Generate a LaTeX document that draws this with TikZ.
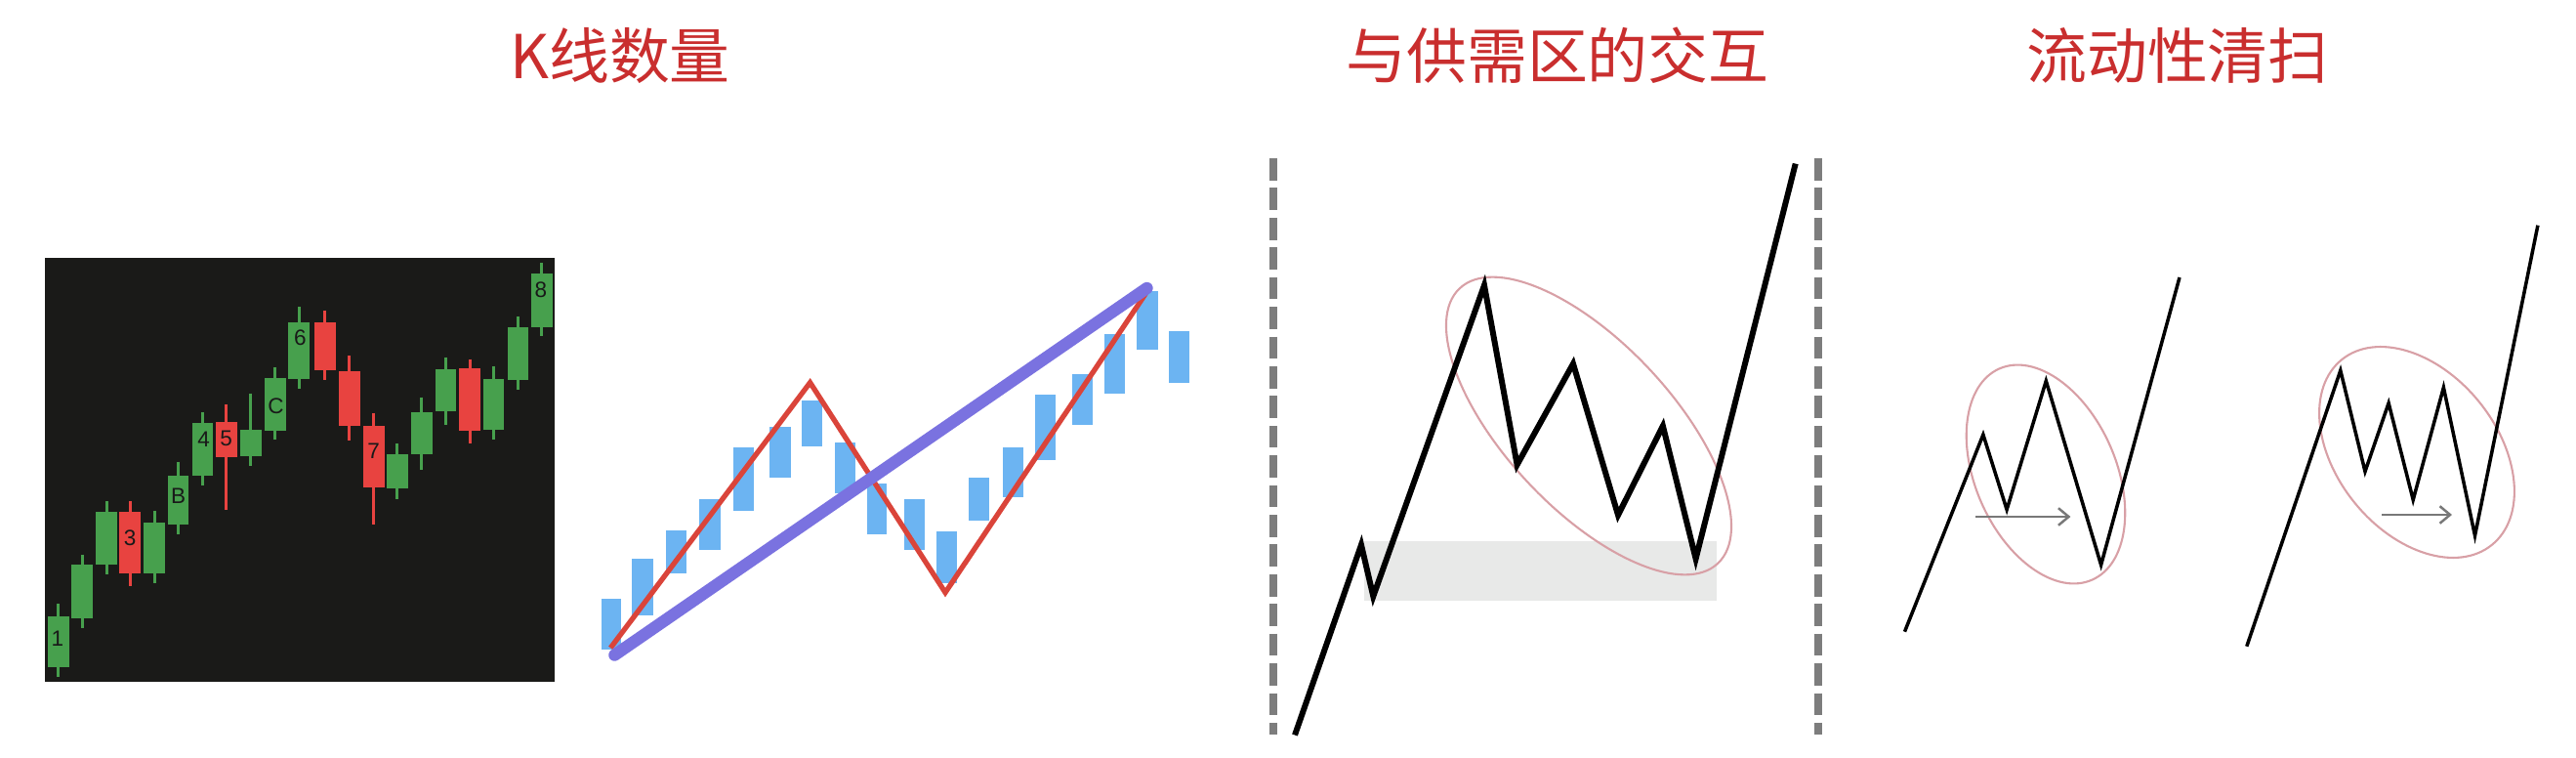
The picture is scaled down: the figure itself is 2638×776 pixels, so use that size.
\documentclass[tikz,border=0pt]{standalone}
\usepackage{fontspec}
\newfontfamily\cjkfont{Noto Sans CJK SC}
\newfontfamily\labfont{Liberation Sans}
\usetikzlibrary{arrows.meta}
\definecolor{titlered}{RGB}{201,46,46}
\definecolor{chartbg}{RGB}{26,26,24}
\definecolor{cg}{RGB}{71,160,77}
\definecolor{cr}{RGB}{232,67,64}
\definecolor{barblue}{RGB}{108,180,242}
\definecolor{zigred}{RGB}{218,68,58}
\definecolor{trendpurple}{RGB}{122,114,224}
\definecolor{dashgray}{RGB}{125,125,125}
\definecolor{bandgray}{RGB}{232,233,232}
\definecolor{ringpink}{RGB}{216,160,166}
\definecolor{arrowgray}{RGB}{120,120,120}
\begin{document}
\begin{tikzpicture}[x=0.01cm,y=-0.01cm,
  title/.style={font=\cjkfont\fontsize{17.6pt}{20pt}\selectfont, text=titlered, inner sep=0pt},
  lbl/.style={font=\labfont\fontsize{6.4pt}{7pt}\selectfont, text=black!90, inner sep=0pt},
  wick/.style={line width=0.85pt},
  zig/.style={draw=zigred, line width=1.5pt, line join=miter},
  trend/.style={draw=trendpurple, line width=3.5pt, line cap=round},
  divider/.style={draw=dashgray, line width=2pt, dash pattern=on 6.46pt off 2.19pt},
  price/.style={draw=black, line width=1.7pt},
  pricethin/.style={draw=black, line width=1pt},
  ring/.style={draw=ringpink, line width=0.6pt},
  sweep/.style={draw=arrowgray, line width=0.7pt, -{Straight Barb[length=3pt,width=5pt]}}
]
\useasboundingbox (0,0) rectangle (2638,776);

% titles
\node[title] (t1) at (635,57) {K线数量};
\node[title] (t2) at (1595,57) {与供需区的交互};
\node[title] (t3) at (2230,57) {流动性清扫};

% panel 1: candlesticks
\begin{scope}[shift={(0,250)},xscale=0.3827,yscale=0.3333]
\fill[chartbg] (120,42) rectangle (1483,1345);
\foreach \cx/\bt/\bb/\wt/\wb/\cc in {
  156/1143/1300/1105/1330/cg, 220/985/1148/953/1178/cg, 285/822/983/790/1013/cg,
  348/822/1012/790/1050/cr, 413/855/1012/818/1040/cg, 477/710/862/668/892/cg,
  542/548/710/516/740/cg, 606/546/655/492/816/cr, 671/570/652/458/682/cg,
  736/412/572/378/600/cg, 800/240/415/192/443/cg, 870/240/388/203/418/cr,
  935/390/558/342/603/cr, 1000/557/746/518/862/cr, 1063/646/749/612/782/cg,
  1128/515/645/470/692/cg, 1193/383/514/347/555/cg, 1257/381/572/353/612/cr,
  1321/415/570/375/600/cg, 1386/255/416/222/446/cg, 1450/90/255/58/283/cg}{
  \draw[wick,\cc] (\cx,\wt) -- (\cx,\wb);
  \fill[\cc] ({\cx-28.5},\bt) rectangle ({\cx+28.5},\bb);
}
\node[lbl] (k1) at (154,1212) {1};
\node[lbl] (k3) at (348,903) {3};
\node[lbl] (kB) at (477,772) {B};
\node[lbl] (k4) at (545,600) {4};
\node[lbl] (k5) at (605,598) {5};
\node[lbl] (kC) at (738,497) {C};
\node[lbl] (k6) at (803,287) {6};
\node[lbl] (k7) at (1000,635) {7};
\node[lbl] (k8) at (1447,140) {8};
\end{scope}

% panel 2: bars with zigzag and trend
\begin{scope}[shift={(590,250)},xscale=0.4145,yscale=0.3333]
\foreach \xa/\xb/\ya/\yb in {
  62/112/1090/1245, 138/190/965/1140, 222/272/880/1010, 305/357/783/940,
  388/438/623/820, 478/530/560/718, 557/607/480/620, 640/690/608/765,
  718/768/735/890, 810/862/783/940, 890/940/883/1040, 970/1020/718/850,
  1055/1105/623/778, 1135/1185/462/662, 1225/1275/400/555, 1305/1355/275/458,
  1385/1437/145/325, 1465/1515/268/425}{
  \fill[barblue] (\xa,\ya) rectangle (\xb,\yb);
}
\coordinate (z0) at (85,1240);
\coordinate (z1) at (578,425);
\coordinate (z2) at (912,1070);
\coordinate (z3) at (1408,150);
\coordinate (p0) at (95,1262);
\coordinate (p1) at (1410,135);
\draw[zig] (z0) -- (z1) -- (z2) -- (z3);
\draw[trend] (p0) -- (p1);
\end{scope}

% panel 3: supply/demand interaction
\coordinate (d1a) at (1304,162);
\coordinate (d1b) at (1304,752);
\coordinate (d2a) at (1862,162);
\coordinate (d2b) at (1862,752);
\draw[divider] (d1a) -- (d1b);
\draw[divider] (d2a) -- (d2b);
\fill[bandgray] (1397,554) rectangle (1758,615);
\draw[ring, rotate around={-46.8:(1627,436)}] (1627,436) ellipse [x radius=1.93cm, y radius=0.85cm];
\coordinate (a0) at (1326,752.5);
\coordinate (a1) at (1394,557.8);
\coordinate (a2) at (1406.3,610.5);
\coordinate (a3) at (1520,292.1);
\coordinate (a4) at (1553.6,475.8);
\coordinate (a5) at (1611,372.4);
\coordinate (a6) at (1657,527.3);
\coordinate (a7) at (1702.9,436.1);
\coordinate (a8) at (1736.6,572);
\coordinate (a9) at (1838.7,167.6);
\draw[price] (a0) -- (a1) -- (a2) -- (a3) -- (a4) -- (a5) -- (a6) -- (a7) -- (a8) -- (a9);

% panel 4: liquidity sweep, left
\draw[ring, rotate around={-66.3:(2095,485.5)}] (2095,485.5) ellipse [x radius=1.18cm, y radius=0.72cm];
\coordinate (b0) at (1950.5,646.7);
\coordinate (b1) at (2030.9,445);
\coordinate (b2) at (2055.1,521.7);
\coordinate (b3) at (2095.3,390);
\coordinate (b4) at (2151.6,578.3);
\coordinate (b5) at (2232,284);
\draw[pricethin] (b0) -- (b1) -- (b2) -- (b3) -- (b4) -- (b5);
\coordinate (s1a) at (2023.4,529);
\coordinate (s1b) at (2120.4,529);
\draw[sweep] (s1a) -- (s1b);

% panel 4: liquidity sweep, right
\draw[ring, rotate around={-50.9:(2475,463)}] (2475,463) ellipse [x radius=1.22cm, y radius=0.82cm];
\coordinate (c0) at (2300.8,661.7);
\coordinate (c1) at (2396.8,379.3);
\coordinate (c2) at (2422,482.7);
\coordinate (c3) at (2446.1,412.7);
\coordinate (c4) at (2471.2,511.7);
\coordinate (c5) at (2502.4,396.7);
\coordinate (c6) at (2534.5,548.3);
\coordinate (c7) at (2598.9,230.7);
\draw[pricethin] (c0) -- (c1) -- (c2) -- (c3) -- (c4) -- (c5) -- (c6) -- (c7);
\coordinate (s2a) at (2439,527);
\coordinate (s2b) at (2511,527);
\draw[sweep] (s2a) -- (s2b);
\end{tikzpicture}
\end{document}
